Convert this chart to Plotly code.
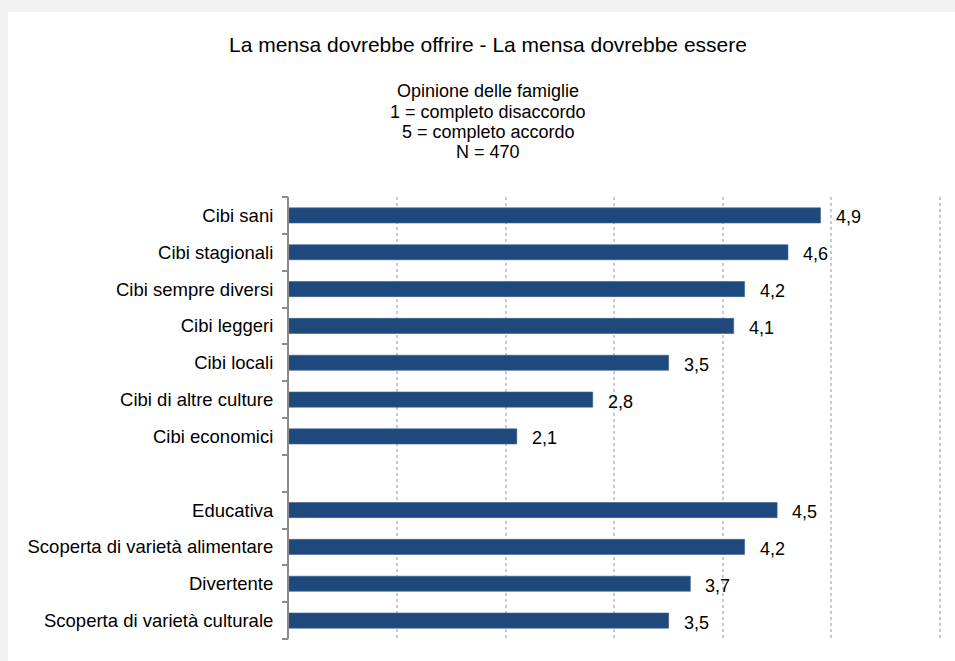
import plotly.graph_objects as go

# Survey items (blank entry separates the two groups)
categories = [
    "Cibi sani", "Cibi stagionali", "Cibi sempre diversi", "Cibi leggeri",
    "Cibi locali", "Cibi di altre culture", "Cibi economici", "",
    "Educativa", "Scoperta di varietà alimentare", "Divertente",
    "Scoperta di varietà culturale",
]
scores = [4.9, 4.6, 4.2, 4.1, 3.5, 2.8, 2.1, None, 4.5, 4.2, 3.7, 3.5]

title_text = "La mensa dovrebbe offrire - La mensa dovrebbe essere"
subtitle_lines = [
    "Opinione delle famiglie",
    "1 = completo disaccordo",
    "5 = completo accordo",
    "N = 470",
]

W, H = 955, 661
ML, MR, MT, MB = 289, 13, 197, 22
PW, PH = W - ML - MR, H - MT - MB
FONT = "Liberation Sans, Arial, sans-serif"
BAR = "#1f497d"


def px_x(px):
    """Pixel column -> paper x (paper spans the plot area)."""
    return (px - ML) / PW


def px_y(py):
    """Pixel row -> paper y."""
    return (H - MB - py) / PH


positions = list(range(len(categories)))
bar_pos = [p for p, v in zip(positions, scores) if v is not None]
bar_val = [v for v in scores if v is not None]
bar_lab = [c for c, v in zip(categories, scores) if v is not None]

fig = go.Figure()
fig.add_trace(go.Bar(
    x=bar_val, y=bar_pos, orientation="h", width=0.41,
    marker=dict(color=BAR, line=dict(color="#3a5f8f", width=0.6)),
    hoverinfo="skip",
))

# Value labels to the right of each bar
for p, v in zip(bar_pos, bar_val):
    fig.add_annotation(
        x=v, y=p, xref="x", yref="y", text=f"{v:.1f}".replace(".", ","),
        showarrow=False, xanchor="left", yanchor="middle", xshift=13, yshift=-2,
        font=dict(family=FONT, size=18, color="#000000"),
    )

# Title and subtitle
cx = px_x(488)
fig.add_annotation(
    x=cx, y=px_y(45), xref="paper", yref="paper", text=title_text,
    showarrow=False, xanchor="center", yanchor="middle",
    font=dict(family=FONT, size=21, color="#000000"),
)
for row, line in zip([91, 111.5, 132, 152.5], subtitle_lines):
    fig.add_annotation(
        x=cx, y=px_y(row), xref="paper", yref="paper", text=line,
        showarrow=False, xanchor="center", yanchor="middle",
        font=dict(family=FONT, size=18, color="#000000"),
    )

# White panel on the grey page
fig.add_shape(
    type="rect", xref="paper", yref="paper", layer="below",
    x0=px_x(8), x1=px_x(W + 5), y0=px_y(H + 5), y1=px_y(12),
    fillcolor="#ffffff", line=dict(width=0),
)

n = len(categories)
yrange = [n - 0.5, -0.5]
fig.update_layout(
    width=W, height=H,
    paper_bgcolor="#f2f2f2", plot_bgcolor="rgba(0,0,0,0)",
    margin=dict(l=ML, r=MR, t=MT, b=MB),
    showlegend=False,
    xaxis=dict(
        range=[0, 6.02], tickvals=[1, 2, 3, 4, 5, 6], showticklabels=False,
        showgrid=True, gridcolor="#c2cadb", griddash="dot", gridwidth=1.5,
        zeroline=False, showline=False, ticks="",
    ),
    yaxis=dict(
        range=yrange, tickmode="array", tickvals=bar_pos, ticktext=bar_lab,
        ticks="", ticklabelstandoff=10,
        tickfont=dict(family=FONT, size=18.5, color="#000000"),
        showgrid=False, zeroline=False,
        showline=True, linecolor="#8c8c8c", linewidth=2,
    ),
    yaxis2=dict(
        overlaying="y", anchor="x", side="left", range=yrange,
        tickmode="array", tickvals=[i - 0.5 for i in range(n + 1)],
        ticks="outside", ticklen=6, tickwidth=1.5, tickcolor="#8c8c8c",
        showticklabels=False, showgrid=False, zeroline=False, showline=False,
    ),
)
fig.add_trace(go.Scatter(x=[None], y=[None], yaxis="y2", hoverinfo="skip"))

fig.write_html("out.html")
